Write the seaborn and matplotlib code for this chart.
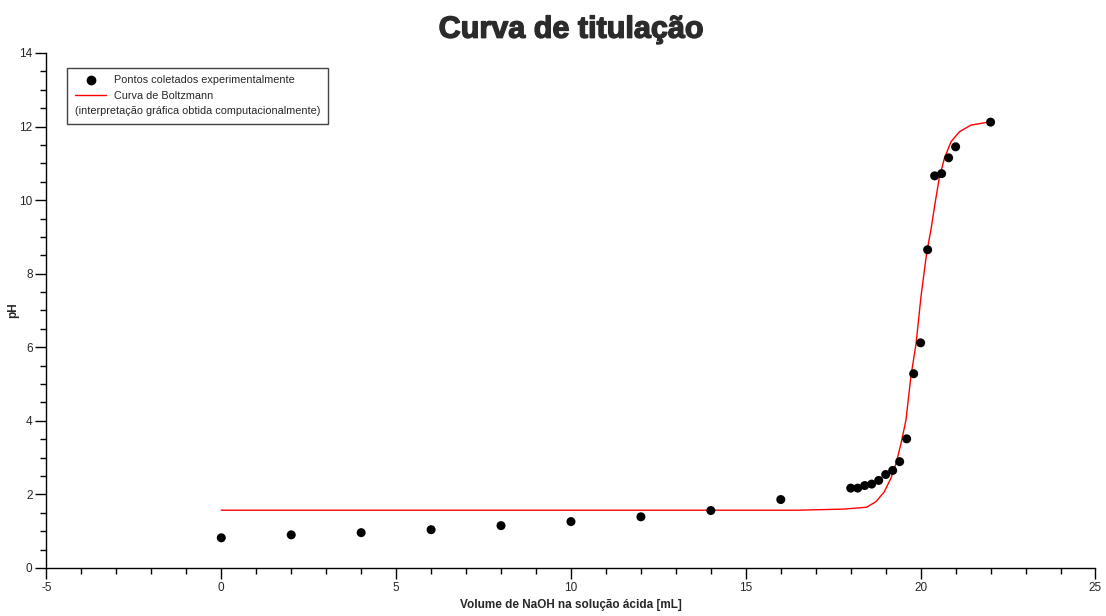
import matplotlib
matplotlib.use('Agg')
import matplotlib.pyplot as plt
import matplotlib.patheffects as pe
import seaborn as sns
import pandas as pd
from matplotlib.lines import Line2D
from matplotlib.ticker import MultipleLocator

# pontos experimentais (volume de NaOH em mL, pH)
vol = [0, 2, 4, 6, 8, 10, 12, 14, 16,
       18.0, 18.2, 18.4, 18.6, 18.8, 19.0, 19.2, 19.4, 19.6, 19.8,
       20.0, 20.2, 20.4, 20.6, 20.8, 21.0, 22]
ph = [0.82, 0.90, 0.96, 1.04, 1.15, 1.26, 1.39, 1.56, 1.86,
      2.17, 2.17, 2.24, 2.28, 2.38, 2.54, 2.65, 2.89, 3.51, 5.28,
      6.12, 8.65, 10.66, 10.72, 11.15, 11.45, 12.12]

# curva de Boltzmann
fit_x = [0, 14, 16.5, 17.8, 18.45, 18.72, 18.96, 19.15, 19.30, 19.44, 19.58,
         19.72, 19.87, 20.01, 20.17, 20.30, 20.42, 20.53, 20.68, 20.87,
         21.11, 21.44, 22.0]
fit_y = [1.57, 1.57, 1.57, 1.60, 1.65, 1.80, 2.07, 2.44, 2.85, 3.39, 4.02,
         5.20, 6.11, 7.38, 8.55, 9.23, 9.96, 10.59, 11.14, 11.59,
         11.86, 12.04, 12.13]

pts = pd.DataFrame({'vol': vol, 'ph': ph})
fit = pd.DataFrame({'vol': fit_x, 'ph': fit_y})

sns.set_style('ticks')
plt.rcParams['font.family'] = ['Liberation Sans', 'DejaVu Sans']
plt.rcParams['axes.unicode_minus'] = False

fig = plt.figure(figsize=(11.06, 6.16), dpi=100)
ax = fig.add_axes([0.042, 0.078, 0.9485, 0.836])

sns.lineplot(data=fit, x='vol', y='ph', ax=ax, color='red', linewidth=1.0,
             sort=False, estimator=None)
sns.scatterplot(data=pts, x='vol', y='ph', ax=ax, color='black', s=42,
                edgecolor='none', zorder=3)

ax.set_xlim(-5, 25)
ax.set_ylim(0, 14)
ax.xaxis.set_major_locator(MultipleLocator(5))
ax.xaxis.set_minor_locator(MultipleLocator(1))
ax.yaxis.set_major_locator(MultipleLocator(2))
ax.yaxis.set_minor_locator(MultipleLocator(0.5))
ax.tick_params(which='major', length=8, width=1, labelsize=8.5, pad=2,
               color='black')
ax.tick_params(which='minor', length=4.5, width=1, color='black')
sns.despine(ax=ax)
for s in ['left', 'bottom']:
    ax.spines[s].set_color('black')
    ax.spines[s].set_linewidth(1)

ax.set_xlabel('Volume de NaOH na solução ácida [mL]', fontsize=8.5,
              fontweight='bold', labelpad=4)
ax.set_ylabel('pH', fontsize=8.5, fontweight='bold')
ax.yaxis.set_label_coords(-0.026, 0.5)

title = ax.set_title('Curva de titulação', fontsize=22, fontweight='bold',
                     color='#2b2b2b', pad=11)
title.set_path_effects([pe.withStroke(linewidth=1.0, foreground='#2b2b2b')])

handles = [Line2D([], [], marker='o', color='black', linestyle='none',
                  markersize=6),
           Line2D([], [], color='red', linewidth=1.0)]
labels = ['Pontos coletados experimentalmente', 'Curva de Boltzmann']
leg = ax.legend(handles, labels, loc='upper left',
                bbox_to_anchor=(0.02, 0.971), borderaxespad=0,
                title='(interpretação gráfica obtida computacionalmente)',
                title_fontsize=7.8, fontsize=7.8, alignment='left',
                fancybox=False, framealpha=1, edgecolor='#444444',
                handlelength=2.9, handletextpad=0.7, labelspacing=0.5,
                borderpad=0.7)
leg.get_frame().set_linewidth(1.0)
leg._legend_box._children.reverse()

fig.savefig('out.png', dpi=100)
